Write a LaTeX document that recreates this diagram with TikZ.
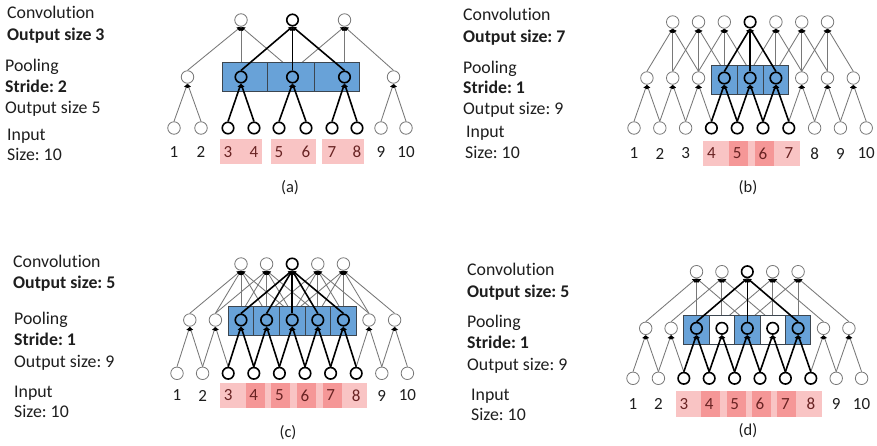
\documentclass[tikz,border=0pt]{standalone}
\usepackage{fontspec}
\setmainfont[Ligatures={NoCommon}]{Carlito}
\usetikzlibrary{arrows.meta}
\definecolor{txt}{RGB}{30,30,30}
\definecolor{redtxt}{RGB}{105,35,35}
\definecolor{boxblue}{RGB}{104,162,216}
\definecolor{boxedge}{RGB}{60,70,80}
\definecolor{pinkbase}{RGB}{235,20,20}
\definecolor{lgray}{RGB}{120,120,120}
\pgfdeclarelayer{bg}
\pgfdeclarelayer{mid}
\pgfsetlayers{bg,mid,main}
\begin{document}
\frenchspacing
\begin{tikzpicture}[x=1pt,y=-1pt,
 nd/.style={circle,draw=lgray,line width=0.8pt,minimum size=12.5pt,inner sep=0pt},
 bnd/.style={circle,draw=black,line width=1.6pt,minimum size=11.5pt,inner sep=0pt},
 gl/.style={draw=lgray,line width=0.85pt,-{Latex[length=4pt,width=5pt,color=black]}},
 bl/.style={draw=black,line width=1.6pt,-{Latex[length=4pt,width=5pt,color=black]}},
 pk/.style={fill=pinkbase,fill opacity=0.25,draw=none},
 cell/.style={fill=boxblue,draw=boxedge,line width=0.8pt},
 wcell/.style={fill=white,draw=boxedge,line width=0.8pt},
 lab/.style={font=\fontsize{17}{17}\selectfont,inner sep=0pt},
 st/.style={font=\fontsize{17.8}{20}\selectfont,text=txt,anchor=base west,inner sep=0pt},
 subcap/.style={font=\fontsize{16.5}{16.5}\selectfont,text=txt,inner sep=0pt}]
\useasboundingbox (0,0) rectangle (877,445);
\begin{pgfonlayer}{bg}
\fill[white] (0,0) rectangle (877,445);
\end{pgfonlayer}

% ---------------- side texts ----------------
\node[st] (aT1) at (7,18.8) {Convolution};
\node[st] (aT2) at (7,40.5) {\bfseries Output size 3};
\node[st] (aT3) at (5,71.2) {Pooling};
\node[st] (aT4) at (5,92.8) {\bfseries Stride: 2};
\node[st] (aT5) at (5,113.8) {Output size 5};
\node[st] (aT6) at (7,140.5) {Input};
\node[st] (aT7) at (7,160.5) {Size: 10};

\node[st] (bT1) at (463,20.5) {Convolution};
\node[st] (bT2) at (463,42.2) {\bfseries Output size: 7};
\node[st] (bT3) at (463,73.8) {Pooling};
\node[st] (bT4) at (463,93.5) {\bfseries Stride: 1};
\node[st] (bT5) at (463,114.5) {Output size: 9};
\node[st] (bT6) at (466,137.2) {Input};
\node[st] (bT7) at (465,158.2) {Size: 10};

\node[st] (cT1) at (13,267.2) {Convolution};
\node[st] (cT2) at (13,288.8) {\bfseries Output size: 5};
\node[st] (cT3) at (14,324.8) {Pooling};
\node[st] (cT4) at (14,345.5) {\bfseries Stride: 1};
\node[st] (cT5) at (14,367.2) {Output size: 9};
\node[st] (cT6) at (14,397.2) {Input};
\node[st] (cT7) at (14,417.2) {Size: 10};

\node[st] (dT1) at (467,275.5) {Convolution};
\node[st] (dT2) at (467,297.2) {\bfseries Output size: 5};
\node[st] (dT3) at (467,327.2) {Pooling};
\node[st] (dT4) at (467,348.8) {\bfseries Stride: 1};
\node[st] (dT5) at (467,370.5) {Output size: 9};
\node[st] (dT6) at (471,400.5) {Input};
\node[st] (dT7) at (471,420.5) {Size: 10};

\node[subcap] (capA) at (290,188) {(a)};
\node[subcap] (capB) at (748,188) {(b)};
\node[subcap] (capC) at (288,433) {(c)};
\node[subcap] (capD) at (748,431) {(d)};

% ================= panel (a) =================
\foreach \i/\x/\s/\c in {1/174/nd/txt,2/201/nd/txt,3/228/bnd/redtxt,4/254/bnd/redtxt,5/279/bnd/redtxt,6/306/bnd/redtxt,7/332/bnd/redtxt,8/357/bnd/redtxt,9/381/nd/txt,10/406/nd/txt}{
  \node[\s] (aI\i) at (\x,128) {};
  \node[lab,text=\c] (aL\i) at (\x,152) {\i};
}
\foreach \k/\x/\s in {1/187.5/nd,2/241/bnd,3/292.5/bnd,4/344.5/bnd,5/393.5/nd}
  \node[\s] (aP\k) at (\x,77) {};
\foreach \j/\x/\s in {1/241/nd,2/292.5/bnd,3/344.5/nd}
  \node[\s] (aC\j) at (\x,20) {};
\begin{pgfonlayer}{bg}
  \fill[pk] (220,139) rectangle (262,164);
  \fill[pk] (271,139) rectangle (316,164);
  \fill[pk] (322,139) rectangle (364,164);
  \foreach \a/\b in {1/1,2/1,9/5,10/5} \draw[gl] (aI\a.north) -- (aP\b.south);
  \foreach \j in {1,3}{\foreach \d in {0,1,2}{
    \pgfmathtruncatemacro\k{\j+\d}
    \draw[gl] (aP\k.north) -- (aC\j.south);}}
\end{pgfonlayer}
\begin{pgfonlayer}{mid}
  \draw[cell] (222,62) rectangle (267,91);
  \draw[cell] (267,62) rectangle (314,91);
  \draw[cell] (314,62) rectangle (359,91);
\end{pgfonlayer}
\foreach \a/\b in {3/2,4/2,5/3,6/3,7/4,8/4} \draw[bl] (aI\a.north) -- (aP\b.south);
\foreach \k in {2,3,4} \draw[bl] (aP\k.north) -- (aC2.south);

% ================= panel (b) =================
\foreach \i/\s/\c in {1/nd/txt,2/nd/txt,3/nd/txt,4/bnd/redtxt,5/bnd/redtxt,6/bnd/redtxt,7/bnd/redtxt,8/nd/txt,9/nd/txt,10/nd/txt}{
  \pgfmathsetmacro\x{634+25.8*(\i-1)}
  \node[\s] (bI\i) at (\x,128) {};
  \node[lab,text=\c] (bL\i) at (\x,153.5) {\i};
}
\foreach \k/\s in {1/nd,2/nd,3/nd,4/bnd,5/bnd,6/bnd,7/nd,8/nd,9/nd}{
  \pgfmathsetmacro\x{634+25.8*(\k-0.5)}
  \node[\s] (bP\k) at (\x,78) {};
}
\foreach \j/\s in {1/nd,2/nd,3/nd,4/bnd,5/nd,6/nd,7/nd}{
  \pgfmathsetmacro\x{634+25.8*(\j+0.5)}
  \node[\s] (bC\j) at (\x,22) {};
}
\begin{pgfonlayer}{bg}
  \foreach \i in {4,5,6}{
    \pgfmathsetmacro\xa{634+25.8*(\i-1)-8}
    \pgfmathsetmacro\xb{634+25.8*\i+11}
    \fill[pk] (\xa,141) rectangle (\xb,166);}
  \foreach \k in {1,2,3,7,8,9}{
    \pgfmathtruncatemacro\m{\k+1}
    \draw[gl] (bI\k.north) -- (bP\k.south);
    \draw[gl] (bI\m.north) -- (bP\k.south);}
  \foreach \j in {1,2,3,5,6,7}{\foreach \d in {0,1,2}{
    \pgfmathtruncatemacro\k{\j+\d}
    \draw[gl] (bP\k.north) -- (bC\j.south);}}
\end{pgfonlayer}
\begin{pgfonlayer}{mid}
  \foreach \k in {4,5,6}{
    \pgfmathsetmacro\x{634+25.8*(\k-0.5)}
    \draw[cell] (\x-12.9,65) rectangle (\x+12.9,94);}
\end{pgfonlayer}
\foreach \k in {4,5,6}{
  \pgfmathtruncatemacro\m{\k+1}
  \draw[bl] (bI\k.north) -- (bP\k.south);
  \draw[bl] (bI\m.north) -- (bP\k.south);
  \draw[bl] (bP\k.north) -- (bC4.south);}

% ================= panel (c) =================
\foreach \i/\s/\c in {1/nd/txt,2/nd/txt,3/bnd/redtxt,4/bnd/redtxt,5/bnd/redtxt,6/bnd/redtxt,7/bnd/redtxt,8/bnd/redtxt,9/nd/txt,10/nd/txt}{
  \pgfmathsetmacro\x{177+25.6*(\i-1)}
  \node[\s] (cI\i) at (\x,373.3) {};
  \node[lab,text=\c] (cL\i) at (\x,395.5) {\i};
}
\foreach \k/\s in {1/nd,2/nd,3/bnd,4/bnd,5/bnd,6/bnd,7/bnd,8/nd,9/nd}{
  \pgfmathsetmacro\x{177+25.6*(\k-0.5)}
  \node[\s] (cP\k) at (\x,320) {};
}
\foreach \j/\s in {1/nd,2/nd,3/bnd,4/nd,5/nd}{
  \pgfmathsetmacro\x{177+25.6*(\j+1.5)}
  \node[\s] (cC\j) at (\x,264) {};
}
\begin{pgfonlayer}{bg}
  \foreach \i in {3,4,5,6,7}{
    \pgfmathsetmacro\xa{177+25.6*(\i-1)-8}
    \pgfmathsetmacro\xb{177+25.6*\i+11}
    \fill[pk] (\xa,382.7) rectangle (\xb,408.3);}
  \foreach \k in {1,2,8,9}{
    \pgfmathtruncatemacro\m{\k+1}
    \draw[gl] (cI\k.north) -- (cP\k.south);
    \draw[gl] (cI\m.north) -- (cP\k.south);}
  \foreach \j in {1,2,4,5}{\foreach \d in {0,1,2,3,4}{
    \pgfmathtruncatemacro\k{\j+\d}
    \draw[gl] (cP\k.north) -- (cC\j.south);}}
\end{pgfonlayer}
\begin{pgfonlayer}{mid}
  \foreach \k in {3,4,5,6,7}{
    \pgfmathsetmacro\x{177+25.6*(\k-0.5)}
    \draw[cell] (\x-12.8,306.5) rectangle (\x+12.8,335.5);}
\end{pgfonlayer}
\foreach \k in {3,4,5,6,7}{
  \pgfmathtruncatemacro\m{\k+1}
  \draw[bl] (cI\k.north) -- (cP\k.south);
  \draw[bl] (cI\m.north) -- (cP\k.south);
  \draw[bl] (cP\k.north) -- (cC3.south);}

% ================= panel (d) =================
\foreach \i/\s/\c in {1/nd/txt,2/nd/txt,3/bnd/redtxt,4/bnd/redtxt,5/bnd/redtxt,6/bnd/redtxt,7/bnd/redtxt,8/bnd/redtxt,9/nd/txt,10/nd/txt}{
  \pgfmathsetmacro\x{633+25.4*(\i-1)}
  \node[\s] (dI\i) at (\x,378.3) {};
  \node[lab,text=\c] (dL\i) at (\x,404) {\i};
}
\foreach \k/\s in {1/nd,2/nd,3/bnd,4/bnd,5/bnd,6/bnd,7/bnd,8/nd,9/nd}{
  \pgfmathsetmacro\x{633+25.4*(\k-0.5)}
  \node[\s] (dP\k) at (\x,328.3) {};
}
\foreach \j/\s in {1/nd,2/nd,3/bnd,4/nd,5/nd}{
  \pgfmathsetmacro\x{633+25.4*(\j+1.5)}
  \node[\s] (dC\j) at (\x,271.7) {};
}
\begin{pgfonlayer}{bg}
  \foreach \i in {3,4,5,6,7}{
    \pgfmathsetmacro\xa{633+25.4*(\i-1)-8}
    \pgfmathsetmacro\xb{633+25.4*\i+11}
    \fill[pk] (\xa,391) rectangle (\xb,416.7);}
  \foreach \k in {1,2,8,9}{
    \pgfmathtruncatemacro\m{\k+1}
    \draw[gl] (dI\k.north) -- (dP\k.south);
    \draw[gl] (dI\m.north) -- (dP\k.south);}
  \foreach \j in {1,2,4,5}{\foreach \d in {0,2,4}{
    \pgfmathtruncatemacro\k{\j+\d}
    \draw[gl] (dP\k.north) -- (dC\j.south);}}
\end{pgfonlayer}
\begin{pgfonlayer}{mid}
  \foreach \k/\sty in {3/cell,4/wcell,5/cell,6/wcell,7/cell}{
    \pgfmathsetmacro\x{633+25.4*(\k-0.5)}
    \draw[\sty] (\x-12.7,315) rectangle (\x+12.7,344.3);}
\end{pgfonlayer}
\foreach \k in {3,4,5,6,7}{
  \pgfmathtruncatemacro\m{\k+1}
  \draw[bl] (dI\k.north) -- (dP\k.south);
  \draw[bl] (dI\m.north) -- (dP\k.south);}
\foreach \k in {3,5,7} \draw[bl] (dP\k.north) -- (dC3.south);
\end{tikzpicture}
\end{document}
